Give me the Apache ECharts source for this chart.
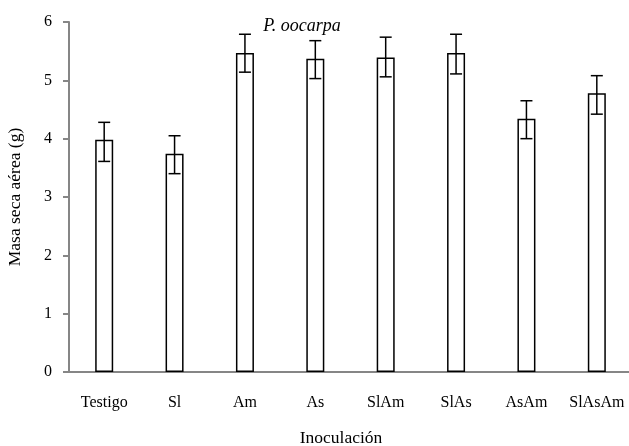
<!DOCTYPE html>
<html>
<head>
<meta charset="utf-8">
<script src="https://cdn.jsdelivr.net/npm/echarts@6/dist/echarts.min.js"></script>
<style>
html,body{margin:0;padding:0;background:#fff;}
#chart{width:629px;height:446px;}
</style>
</head>
<body>
<div id="chart"></div>
<script>
const categories = ['Testigo', 'Sl', 'Am', 'As', 'SlAm', 'SlAs', 'AsAm', 'SlAsAm'];
const means = [3.98, 3.74, 5.47, 5.37, 5.39, 5.47, 4.34, 4.78];
const errHigh = [4.28, 4.05, 5.79, 5.68, 5.74, 5.79, 4.65, 5.08];
const errLow = [3.61, 3.40, 5.14, 5.03, 5.06, 5.11, 4.00, 4.42];
const yTicks = [0, 1, 2, 3, 4, 5, 6];

const FONT = '"Liberation Serif", "Times New Roman", serif';
const chart = echarts.init(document.getElementById('chart'));
const errData = categories.map((c, i) => [i, errLow[i], errHigh[i]]);

chart.setOption({
  animation: false,
  backgroundColor: '#fff',
  title: {
    text: 'P. oocarpa',
    left: 297,
    top: 12,
    textAlign: 'center',
    textStyle: {fontFamily: FONT, fontStyle: 'italic', fontWeight: 'normal', fontSize: 18, color: '#000'}
  },
  grid: {left: 69, top: 22, width: 563, height: 350, containLabel: false, outerBoundsMode: 'none'},
  xAxis: {
    type: 'category',
    data: categories,
    name: 'Inoculación',
    nameLocation: 'middle',
    nameGap: 57,
    nameTextStyle: {fontFamily: FONT, fontSize: 17.5, color: '#000', padding: [0, 19, 0, 0]},
    axisLine: {lineStyle: {color: '#868686', width: 2}},
    axisTick: {show: false},
    axisLabel: {fontFamily: FONT, fontSize: 16, color: '#000', margin: 23, interval: 0}
  },
  yAxis: {
    type: 'value',
    min: yTicks[0],
    max: yTicks[yTicks.length - 1],
    interval: 1,
    name: 'Masa seca aérea (g)',
    nameLocation: 'middle',
    nameGap: 45,
    nameTextStyle: {fontFamily: FONT, fontSize: 17.5, color: '#000'},
    axisLine: {show: true, lineStyle: {color: '#868686', width: 2}},
    axisTick: {show: true, length: 6, lineStyle: {color: '#868686', width: 2}},
    splitLine: {show: false},
    axisLabel: {fontFamily: FONT, fontSize: 16, color: '#000', margin: 17}
  },
  series: [
    {
      type: 'bar',
      data: means,
      barWidth: 18,
      itemStyle: {color: '#fff', borderColor: '#000', borderWidth: 1.5}
    },
    {
      type: 'custom',
      data: errData,
      z: 10,
      renderItem: function (params, api) {
        const x = api.value(0);
        const lo = api.coord([x, api.value(1)]);
        const hi = api.coord([x, api.value(2)]);
        const cap = 6;
        const style = {stroke: '#000', lineWidth: 1.5, fill: null};
        return {
          type: 'group',
          children: [
            {type: 'line', shape: {x1: hi[0], y1: hi[1], x2: lo[0], y2: lo[1]}, style: style},
            {type: 'line', shape: {x1: hi[0] - cap, y1: hi[1], x2: hi[0] + cap, y2: hi[1]}, style: style},
            {type: 'line', shape: {x1: lo[0] - cap, y1: lo[1], x2: lo[0] + cap, y2: lo[1]}, style: style}
          ]
        };
      }
    }
  ]
});
</script>
</body>
</html>
